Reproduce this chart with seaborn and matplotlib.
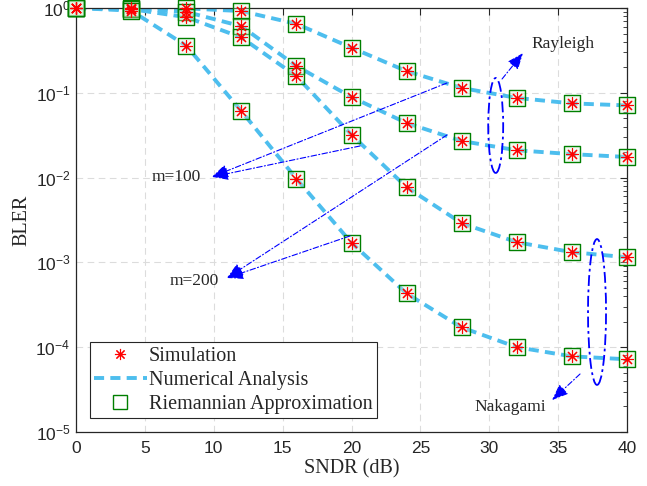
import numpy as np
import pandas as pd
import matplotlib
matplotlib.use("Agg")
import matplotlib.pyplot as plt
from matplotlib.lines import Line2D
from matplotlib.patches import Ellipse
import seaborn as sns

# ---------------- data ----------------
snr = [0, 4, 8, 12, 16, 20, 24, 28, 32, 36, 40]
rayleigh_m100 = [1.0, 0.99, 0.99, 0.92, 0.65, 0.34, 0.18, 0.114, 0.087, 0.075, 0.071]
rayleigh_m200 = [1.0, 0.98, 0.90, 0.61, 0.207, 0.089, 0.044, 0.027, 0.021, 0.0189, 0.0175]
nakagami_m100 = [1.0, 0.97, 0.78, 0.45, 0.157, 0.032, 0.0077, 0.0029, 0.00173, 0.00132, 0.00115]
nakagami_m200 = [1.0, 0.93, 0.36, 0.061, 0.0097, 0.0017, 0.00043, 0.000171, 0.000100, 0.000078, 0.000072]

curves = {
    "Rayleigh m=100": rayleigh_m100,
    "Rayleigh m=200": rayleigh_m200,
    "Nakagami m=100": nakagami_m100,
    "Nakagami m=200": nakagami_m200,
}

x_ticks = [0, 5, 10, 15, 20, 25, 30, 35, 40]
y_ticks = [1e-5, 1e-4, 1e-3, 1e-2, 1e-1, 1e0]
y_ticklabels = [r"$10^{-5}$", r"$10^{-4}$", r"$10^{-3}$", r"$10^{-2}$", r"$10^{-1}$", r"$10^{0}$"]
legend_labels = ["Simulation", "Numerical Analysis", "Riemannian Approximation"]

rows = []
for name, vals in curves.items():
    for s, v in zip(snr, vals):
        rows.append({"curve": name, "SNDR": s, "BLER": v})
df = pd.DataFrame(rows)

# ---------------- style ----------------
sns.set_style("white")
plt.rcParams["font.family"] = ["Liberation Sans", "DejaVu Sans"]
plt.rcParams["mathtext.fontset"] = "custom"
plt.rcParams["mathtext.rm"] = "Liberation Sans"
plt.rcParams["mathtext.it"] = "Liberation Sans"
serif = ["Liberation Serif", "DejaVu Serif"]

LINE_C = "#4DBEEE"
AX_C = "#262626"

fig = plt.figure(figsize=(6.47, 4.86), dpi=100)
ax = fig.add_axes([76 / 647, 1 - 432 / 486, 551 / 647, 424 / 486])

sns.lineplot(data=df, x="SNDR", y="BLER", units="curve", estimator=None,
             color=LINE_C, lw=2.8, dashes=False, ax=ax, legend=False, zorder=2)
for l in ax.get_lines():
    l.set_dashes((2.6, 1.6))

sns.scatterplot(data=df, x="SNDR", y="BLER", marker="s", s=120,
                facecolor=(0.85, 0.95, 0.85, 0.35), edgecolor="#007F00",
                linewidth=1.0, ax=ax, legend=False, zorder=3)
sns.scatterplot(data=df, x="SNDR", y="BLER", marker=(8, 2, 0), s=75,
                color="red", edgecolor="red", linewidth=0.8, ax=ax,
                legend=False, zorder=4)
for coll in ax.collections:
    coll.set_clip_on(False)

ax.set_yscale("log")
ax.set_xlim(0, 40)
ax.set_ylim(1e-5, 1e0)
ax.set_xticks(x_ticks)
ax.set_xticklabels([str(t) for t in x_ticks])
ax.set_yticks(y_ticks)
ax.set_yticklabels(y_ticklabels)
ax.tick_params(which="both", direction="in", top=True, right=True,
               colors=AX_C, labelsize=12.5)
ax.tick_params(which="major", length=5, width=0.8, pad=4)
ax.tick_params(axis="x", which="major", pad=6.5)
ax.tick_params(which="minor", length=3, width=0.6)
ax.yaxis.set_minor_locator(matplotlib.ticker.LogLocator(base=10, subs=np.arange(2, 10)))
ax.yaxis.set_minor_formatter(matplotlib.ticker.NullFormatter())
ax.grid(True, which="major", color="#DCDCDC", linestyle=(0, (6, 4)), lw=0.8)
ax.set_axisbelow(True)
for sp in ax.spines.values():
    sp.set_color(AX_C)
    sp.set_linewidth(0.9)

ax.set_xlabel("SNDR (dB)", fontfamily=serif, fontsize=14.5, color=AX_C, labelpad=2)
ax.set_ylabel("BLER", fontfamily=serif, fontsize=14.5, color=AX_C, labelpad=3)

# ---------------- annotations ----------------
BLUE = "blue"
aprops = dict(arrowstyle="-|>,head_length=1.0,head_width=0.4", color=BLUE,
              lw=0.8, linestyle=(0, (5, 2, 1, 2)), shrinkA=0, shrinkB=0)

def arrow(tail, tip):
    ax.annotate("", xy=tip, xytext=tail, arrowprops=aprops, zorder=5)

ax.text(7.26, 0.0102, "m=100", fontfamily=serif, fontsize=12.5, ha="center", va="center")
arrow((26.93, 0.1306), (9.87, 0.0102))
arrow((20.62, 0.0236), (9.87, 0.0102))

ax.text(8.57, 6.0e-4, "m=200", fontfamily=serif, fontsize=12.5, ha="center", va="center")
arrow((26.93, 0.0318), (10.96, 6.55e-4))
arrow((19.89, 0.00205), (10.96, 6.55e-4))

ax.text(35.35, 0.376, "Rayleigh", fontfamily=serif, fontsize=12.5, ha="center", va="center")
arrow((30.93, 0.1455), (32.45, 0.294))

ax.text(31.5, 1.97e-5, "Nakagami", fontfamily=serif, fontsize=12.5, ha="center", va="center")
arrow((36.59, 4.83e-5), (34.56, 2.38e-5))

for (cx, cy, w, h) in [(0.7617, 0.7229, 0.0272, 0.224), (0.9456, 0.283, 0.0327, 0.344)]:
    ax.add_patch(Ellipse((cx, cy), w, h, transform=ax.transAxes, fill=False,
                         edgecolor=BLUE, lw=1.3, linestyle=(0, (6, 2, 1.5, 2)), zorder=5))

# ---------------- legend ----------------
handles = [
    Line2D([], [], marker=(8, 2, 0), color="red", ls="none", markersize=8, markeredgewidth=0.8),
    Line2D([], [], color=LINE_C, lw=2.8, dashes=(2.6, 1.6)),
    Line2D([], [], marker="s", ls="none", markersize=10, markerfacecolor="white",
           markeredgecolor="#007F00", markeredgewidth=1.0),
]
leg = ax.legend(handles, legend_labels, loc="lower left", bbox_to_anchor=(0.025, 0.033),
                borderaxespad=0, frameon=True, fancybox=False, framealpha=1,
                edgecolor="#262626", prop={"family": serif, "size": 14.5},
                handlelength=2.6, handletextpad=0.1, labelspacing=0.24,
                borderpad=0.22)
leg.get_frame().set_linewidth(0.8)
leg.set_zorder(6)

fig.savefig("out.png", dpi=100)
